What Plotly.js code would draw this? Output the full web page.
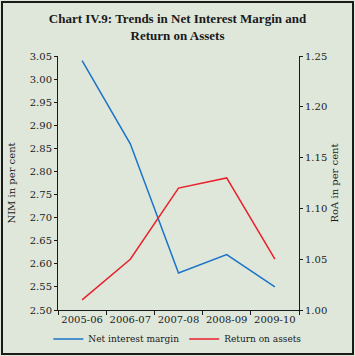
<!DOCTYPE html>
<html>
<head>
<meta charset="utf-8">
<script src="https://cdn.plot.ly/plotly-3.0.1.min.js"></script>
<style>
  html, body { margin: 0; padding: 0; background: #dfe7db; }
  #wrap { position: relative; width: 355px; height: 356px; }
  #chart { position: absolute; left: 0; top: 0; width: 355px; height: 356px; }
  #frame { position: absolute; left: 1px; top: 1px; width: 349px; height: 350px; border: 2px solid #1a1a1a; pointer-events: none; }
</style>
</head>
<body>
<div id="wrap"><div id="chart"></div><div id="frame"></div></div>
<script>
const years = ["2005-06", "2006-07", "2007-08", "2008-09", "2009-10"];
const nim = [3.04, 2.86, 2.58, 2.62, 2.55];
const roa = [1.01, 1.05, 1.12, 1.13, 1.05];
const nimName = "Net interest margin";
const roaName = "Return on assets";

const serif = "DejaVu Serif";
const ink = "#1a1a1a";

const traces = [
  { x: years, y: nim, name: nimName, type: "scatter", mode: "lines",
    line: { color: "#1b74c8", width: 1.5 }, yaxis: "y" },
  { x: years, y: roa, name: roaName, type: "scatter", mode: "lines",
    line: { color: "#e8212b", width: 1.5 }, yaxis: "y2" }
];

const layout = {
  width: 355, height: 356,
  paper_bgcolor: "#dfe7db", plot_bgcolor: "#dfe7db",
  margin: { l: 58, r: 56, t: 56, b: 46, autoexpand: false },
  font: { family: serif, size: 10, color: ink },
  title: { text: "<b>Chart IV.9: Trends in Net Interest Margin and<br>Return on Assets</b>",
           font: { family: "Liberation Serif", size: 13, color: ink },
           xref: "container", yref: "container",
           x: 0.5, xanchor: "center", y: 1 - 23 / 356, yanchor: "middle" },
  showlegend: true,
  legend: { orientation: "h", xref: "paper", yref: "paper",
            x: -0.04, xanchor: "left", y: -0.114, yanchor: "middle",
            font: { family: serif, size: 9, color: ink }, bgcolor: "rgba(0,0,0,0)" },
  xaxis: { type: "category", range: [-0.5, 4.5], showline: true, linecolor: ink, linewidth: 1,
           ticks: "outside", ticklen: 4, tickcolor: ink, tickson: "boundaries", tickangle: 0,
           showgrid: false, zeroline: false, tickfont: { family: serif, size: 10, color: ink } },
  yaxis: { range: [2.5, 3.05], dtick: 0.05, tick0: 2.5, tickformat: ".2f",
           showline: true, linecolor: ink, linewidth: 1, ticks: "outside", ticklen: 3, tickcolor: ink,
           showgrid: false, zeroline: false, tickfont: { family: serif, size: 10, color: ink },
           title: { text: "NIM in per cent", font: { family: serif, size: 10, color: ink }, standoff: 12 } },
  yaxis2: { range: [1.0, 1.25], dtick: 0.05, tick0: 1.0, tickformat: ".2f", overlaying: "y", side: "right",
            showline: true, linecolor: ink, linewidth: 1, ticks: "outside", ticklen: 3, tickcolor: ink,
            showgrid: false, zeroline: false, tickfont: { family: serif, size: 10, color: ink },
            title: { text: "RoA in per cent", font: { family: serif, size: 10, color: ink }, standoff: 4 } }
};

Plotly.newPlot("chart", traces, layout, { displayModeBar: false, staticPlot: true });
</script>
</body>
</html>
